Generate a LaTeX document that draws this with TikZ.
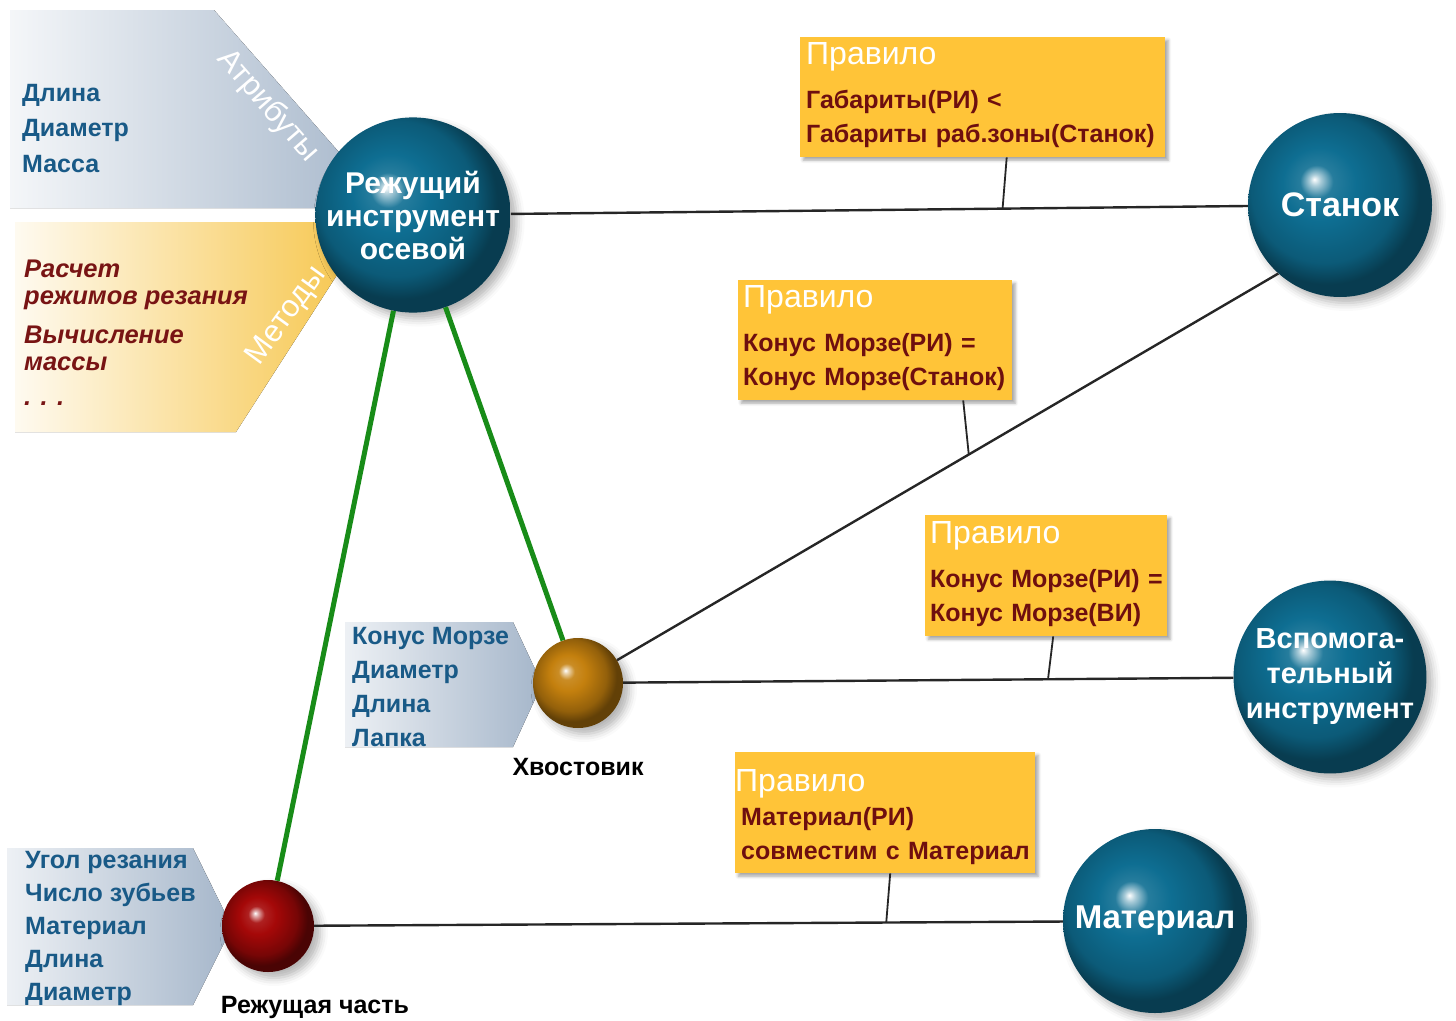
\documentclass[tikz,border=0pt]{standalone}
\usepackage{fontspec}
\setmainfont{Liberation Sans}
\usepackage{xcolor}
\usepackage{tikz}
\usetikzlibrary{shapes, positioning, calc, shadows.blur}
\definecolor{toolTeal}{RGB}{14, 110, 146}
\definecolor{shankBrown}{RGB}{196, 128, 14}
\definecolor{edgeRed}{RGB}{165, 8, 8}
\definecolor{ruleGold}{RGB}{255, 196, 56}
\definecolor{ruleText}{RGB}{110, 15, 15}
\definecolor{attrBlue}{RGB}{25, 90, 135}
\definecolor{methodRed}{RGB}{120, 20, 20}
\definecolor{panelGrey}{RGB}{165, 182, 202}
\definecolor{panelGold}{RGB}{246, 196, 70}
\definecolor{linkGreen}{RGB}{24, 140, 24}
\newcommand{\ruletitle}{\fontsize{32}{32}\selectfont\mdseries\color{white}}

% Sombreado de las esferas: brillo arriba a la izquierda, borde oscuro
\pgfdeclareradialshading{tealball}{\pgfpoint{-7bp}{7bp}}{color(0bp)=(white); color(1.5bp)=(toolTeal!35!white);
    color(4.5bp)=(toolTeal!90!white); color(10bp)=(toolTeal); color(20bp)=(toolTeal!82!black);
    color(25bp)=(toolTeal!55!black); color(50bp)=(toolTeal!55!black)}
\pgfdeclareradialshading{shankball}{\pgfpoint{-7bp}{7bp}}{color(0bp)=(white); color(1.5bp)=(shankBrown!35!white);
    color(4.5bp)=(shankBrown!90!white); color(10bp)=(shankBrown); color(20bp)=(shankBrown!75!black);
    color(25bp)=(shankBrown!50!black); color(50bp)=(shankBrown!50!black)}
\pgfdeclareradialshading{edgeball}{\pgfpoint{-7bp}{7bp}}{color(0bp)=(white); color(1.5bp)=(edgeRed!35!white);
    color(4.5bp)=(edgeRed!90!white); color(10bp)=(edgeRed); color(20bp)=(edgeRed!72!black);
    color(25bp)=(edgeRed!45!black); color(50bp)=(edgeRed!45!black)}

\begin{document}
\begin{tikzpicture}[x=1pt, y=-1pt,
    toolball/.style={circle, shading=tealball, inner sep=0pt, text=white, align=center,
        blur shadow={shadow xshift=6pt, shadow yshift=-6pt, shadow blur radius=8pt, shadow opacity=30}},
    rulebox/.style={fill=ruleGold, inner sep=0pt, anchor=north west,
        blur shadow={shadow xshift=3pt, shadow yshift=-3pt, shadow blur radius=3pt, shadow opacity=35}},
    ruletext/.style={anchor=north west, align=left, inner sep=0pt, text=ruleText,
        font=\fontsize{25}{34}\selectfont\bfseries},
    attr/.style={anchor=north west, align=left, inner sep=0pt, text=attrBlue,
        font=\fontsize{25}{34}\selectfont\bfseries},
    partname/.style={inner sep=0pt, font=\fontsize{25}{25}\selectfont\bfseries},
    bond/.style={line width=2.4pt, black!85},
    rulelink/.style={line width=1.8pt, black!85},
    partlink/.style={line width=5pt, linkGreen}]
    \useasboundingbox (0,0) rectangle (1456,1020);

    % Paneles de atributos y metodos
    \fill[left color=panelGrey!12, right color=panelGrey] (10,10) -- (214,10) -- (388,208) -- (10,208) -- cycle;
    \fill[left color=panelGold!8, right color=panelGold] (15,222) -- (371,222) -- (236,432) -- (15,432) -- cycle;
    \fill[left color=panelGrey!20, right color=panelGrey] (345,622) -- (513,622) -- (542,684) -- (513,747) -- (345,747) -- cycle;
    \fill[left color=panelGrey!20, right color=panelGrey] (7,848) -- (193,848) -- (232,927) -- (193,1005) -- (7,1005) -- cycle;
    \node[rotate=-49, text=white, font=\fontsize{31}{31}\selectfont] (attrlbl) at (268,106) {Атрибуты};
    \node[rotate=54, text=white, font=\fontsize{31}{31}\selectfont] (methlbl) at (287,316) {Методы};

    % Esferas
    \node[toolball, minimum size=178pt, font=\fontsize{30}{33}\selectfont\bfseries] (ri) at (413,215) {Режущий\\инструмент\\осевой};
    \node[toolball, minimum size=184pt, font=\fontsize{34}{34}\selectfont\bfseries] (stanok) at (1340,205) {Станок};
    \node[toolball, minimum size=184pt, font=\fontsize{29}{35}\selectfont\bfseries] (vi) at (1330,677) {Вспомога-\\тельный\\инструмент};
    \node[toolball, minimum size=184pt, font=\fontsize{33}{33}\selectfont\bfseries] (mat) at (1155,921) {Материал};
    \node[toolball, shading=shankball, minimum size=90pt] (hv) at (578,683) {};
    \node[toolball, shading=edgeball, minimum size=92pt] (rc) at (268,926) {};

    % Textos de atributos
    \node[attr, font=\fontsize{25}{35.5}\selectfont\bfseries] (attrs) at (22,84) {Длина\\Диаметр\\Масса};
    \node[attr, text=methodRed, font=\fontsize{25.5}{27}\selectfont\bfseries\itshape] (meths) at (24,260)
        {Расчет\\режимов резания\\[12pt]Вычисление\\массы\\[8pt]. . .};
    \node[attr] (hvattrs) at (352,627) {Конус Морзе\\Диаметр\\Длина\\Лапка};
    \node[attr, font=\fontsize{25}{33}\selectfont\bfseries] (rcattrs) at (25,851) {Угол резания\\Число зубьев\\Материал\\Длина\\Диаметр};
    \node[partname, below=30pt of hv] (hvlbl) {Хвостовик};
    \node[partname, below=24pt of rc, xshift=47pt] (rclbl) {Режущая часть};

    % Reglas
    \node[rulebox, minimum width=365pt, minimum height=120pt] (r1) at (800,37) {};
    \node[ruletext, text width=360pt] (r1t) at (806,42) {{\ruletitle Правило}\\[10pt]Габариты(РИ) <\\Габариты раб.зоны(Станок)};
    \node[rulebox, minimum width=274pt, minimum height=120pt] (r2) at (738,280) {};
    \node[ruletext, text width=272pt] (r2t) at (743,285) {{\ruletitle Правило}\\[10pt]Конус Морзе(РИ) =\\Конус Морзе(Станок)};
    \node[rulebox, minimum width=242pt, minimum height=121pt] (r3) at (925,515) {};
    \node[ruletext, text width=240pt] (r3t) at (930,521) {{\ruletitle Правило}\\[10pt]Конус Морзе(РИ) =\\Конус Морзе(ВИ)};
    \node[rulebox, minimum width=300pt, minimum height=121pt] (r4) at (735,752) {};
    \node[ruletext, text width=296pt] (r4t) at (741,769) {{\ruletitle\hspace*{-6pt}Правило}\\Материал(РИ)\\совместим с Материал};

    % Conexiones
    \draw[partlink] (ri) -- (rc);
    \draw[partlink] (ri) -- (hv);
    \draw[bond] (ri) -- (stanok);
    \draw[bond] (hv) -- (stanok.228);
    \draw[bond] (hv) -- (vi);
    \draw[bond] (rc) -- (mat);

    \coordinate (j1) at ($(ri)!0.636!(stanok)$);
    \coordinate (j2) at ($(hv)!0.558!(stanok.228)$);
    \coordinate (j3) at ($(hv)!0.625!(vi)$);
    \coordinate (j4) at ($(rc)!0.697!(mat)$);
    \draw[rulelink] ([xshift=24pt]r1.south) -- (j1);
    \draw[rulelink] ([xshift=88pt]r2.south) -- (j2);
    \draw[rulelink] ([xshift=7pt]r3.south) -- (j3);
    \draw[rulelink] ([xshift=5pt]r4.south) -- (j4);
\end{tikzpicture}
\end{document}
